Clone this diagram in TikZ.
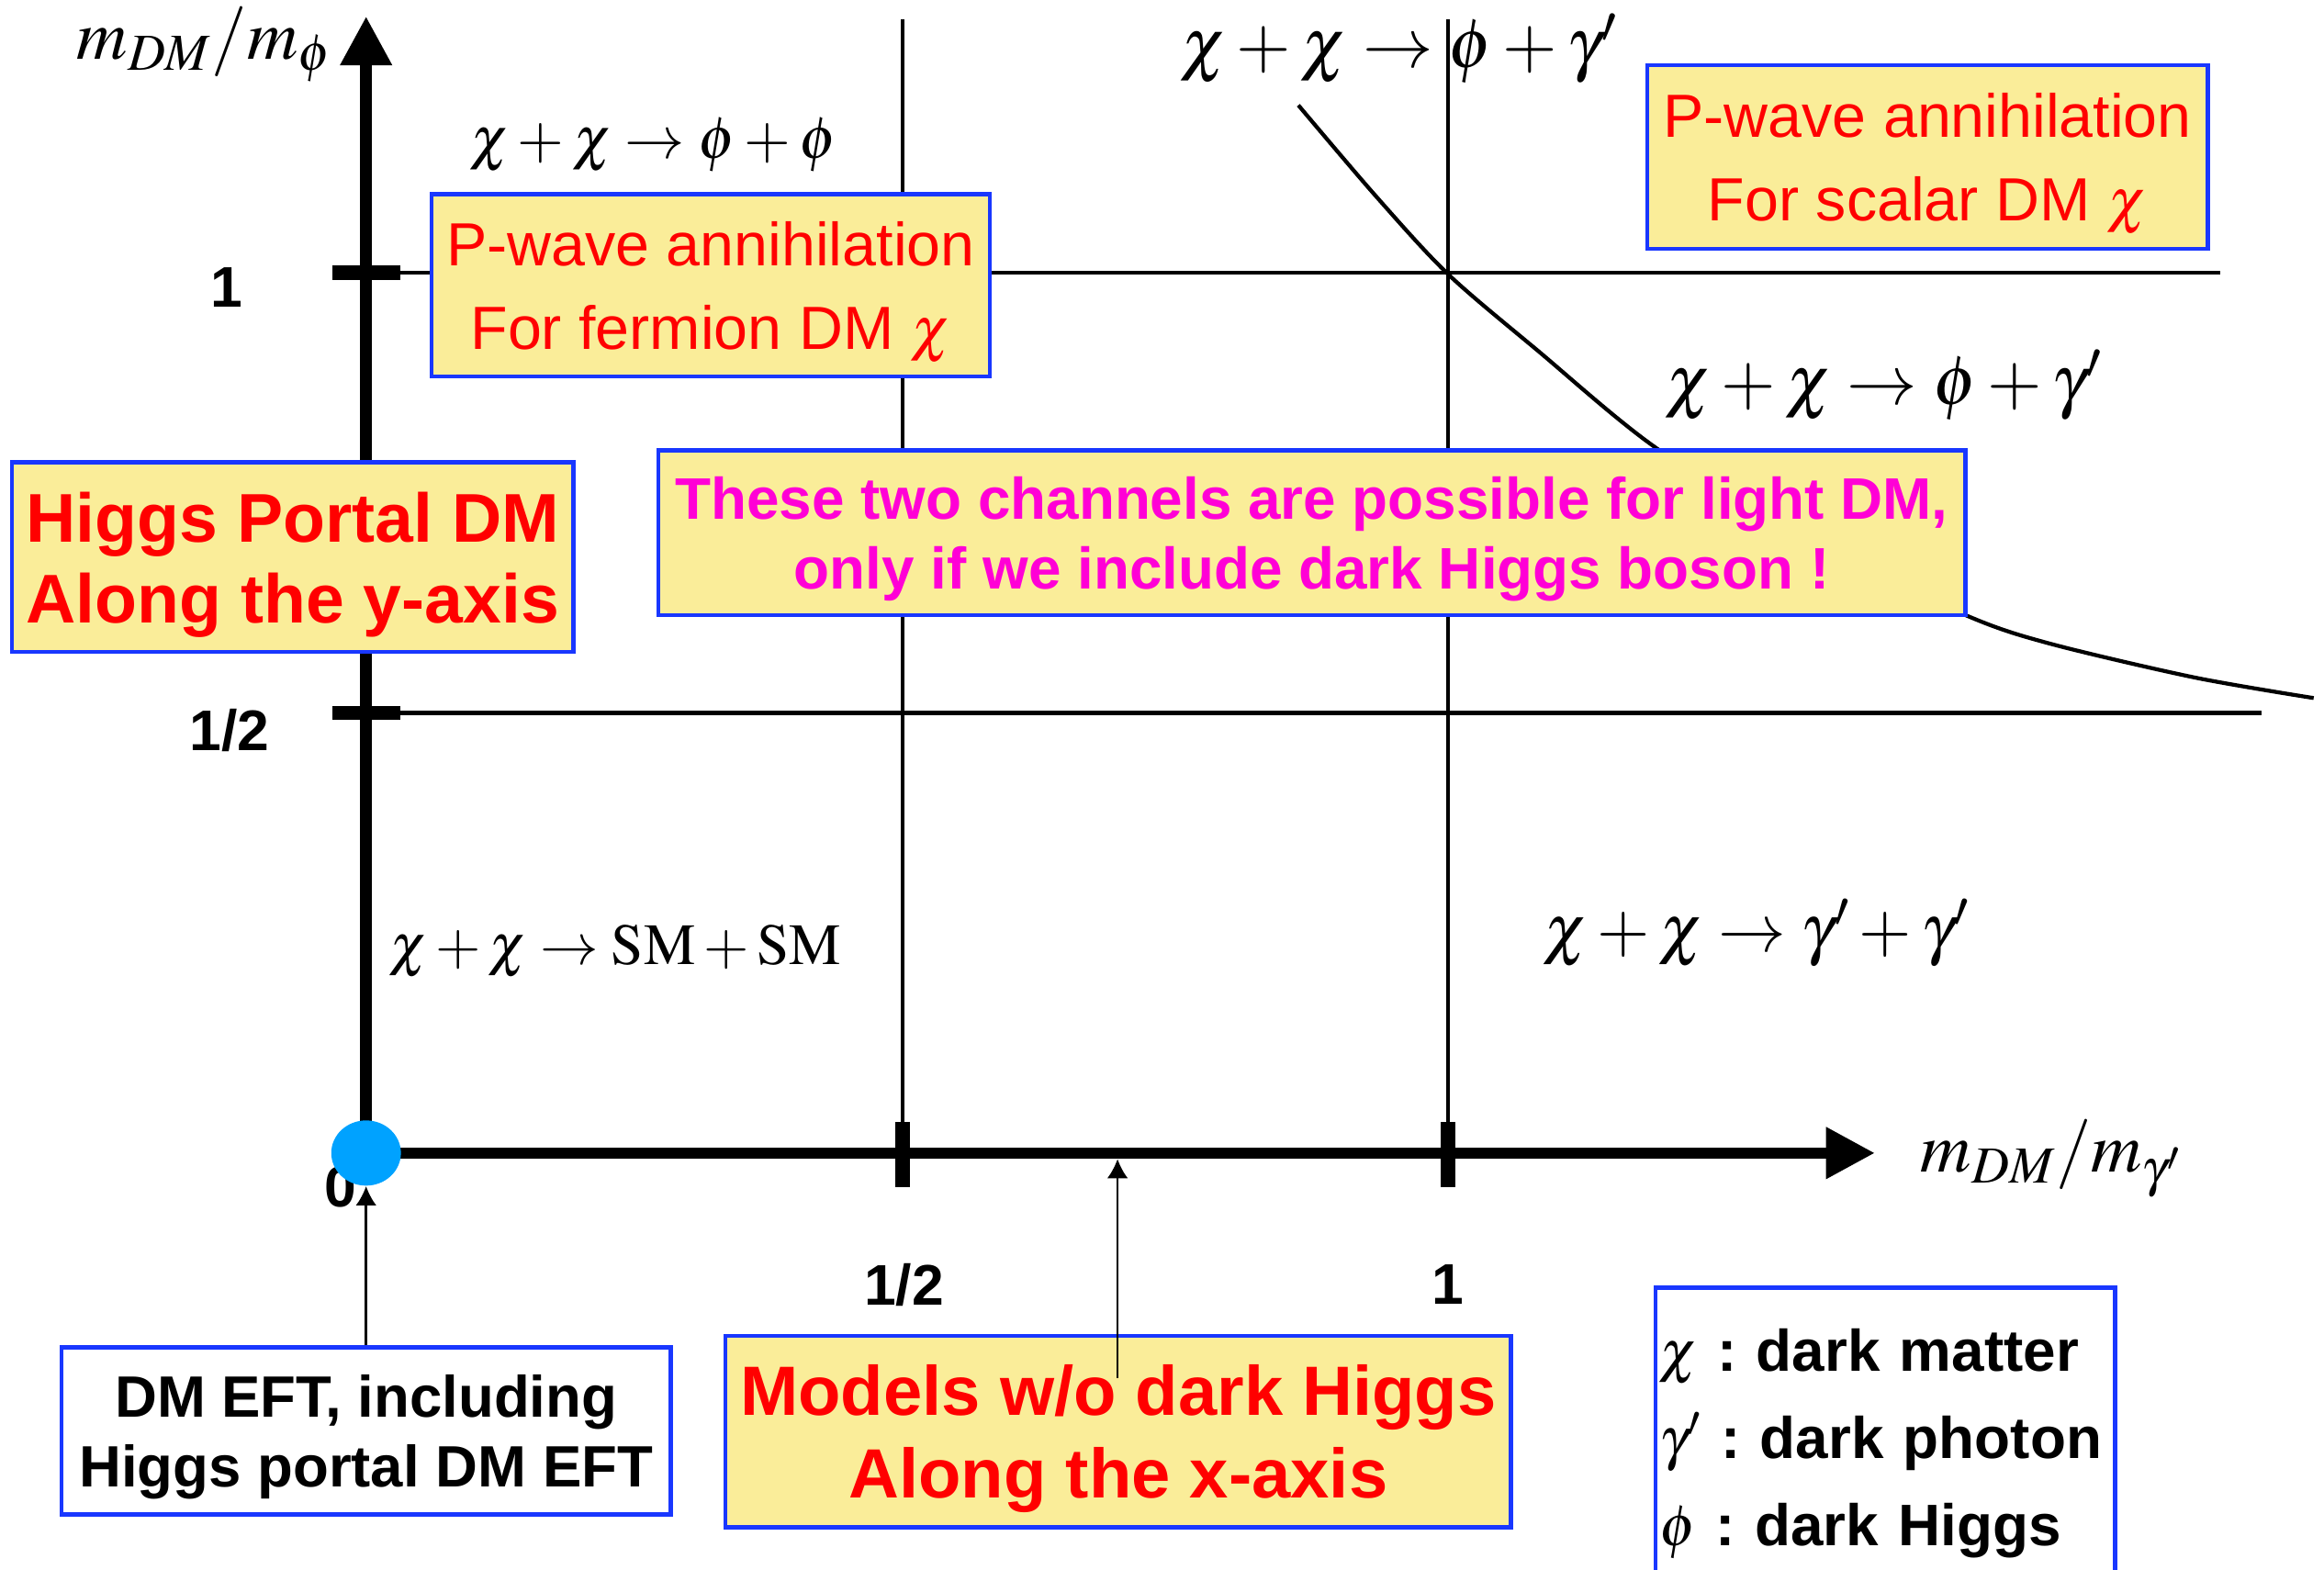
\documentclass[tikz,border=0pt]{standalone}
\usepackage{mathptmx}
\usepackage[no-math]{fontspec}
\setmainfont{Liberation Sans}
\usetikzlibrary{arrows.meta,shapes.geometric}
\definecolor{boxfill}{RGB}{250,237,153}
\definecolor{boxblue}{RGB}{25,55,255}
\definecolor{dmred}{RGB}{255,0,0}
\definecolor{dmmagenta}{RGB}{255,0,214}
\definecolor{dotblue}{RGB}{0,162,255}

\begin{document}
\begin{tikzpicture}[x=0.02cm, y=-0.02cm]
        \tikzstyle{note} = [rectangle, draw=boxblue, line width=1.6pt, fill=boxfill, inner sep=0pt, align=center, text depth=0pt]
        \tikzstyle{plain} = [rectangle, draw=boxblue, line width=1.6pt, fill=white, inner sep=0pt, align=center, text depth=0pt]
        \tikzstyle{process} = [inner sep=0pt, font=\fontsize{27}{30}\selectfont]
        \tikzstyle{ticklabel} = [inner sep=0pt, font=\bfseries\fontsize{22}{26}\selectfont]
        \tikzstyle{axis} = [line width=4.4pt, -{Triangle[length=0.66cm, width=0.66cm]}]
        \tikzstyle{guide} = [line width=1.5pt]
        \tikzstyle{tickmark} = [line width=5.5pt]
        \tikzstyle{pointer} = [line width=0.9pt, -{Latex[length=0.26cm, width=0.28cm]}]

        \useasboundingbox (0,0) rectangle (1568,1059);

        % axes frame
        \coordinate (origin) at (247,778);
        \coordinate (ytip) at (247,11);
        \coordinate (xtip) at (1265,778);
        \coordinate (yone) at (247,184);
        \coordinate (yhalf) at (247,481);
        \coordinate (xhalf) at (609,778);
        \coordinate (xone) at (977,778);

        % guide lines
        \draw [guide] (yone) -- (1498,184);
        \draw [guide] (yhalf) -- (1526,481);
        \draw [guide] (xhalf) -- (609,13);
        \draw [guide] (xone) -- (977,13);

        % threshold curve
        \draw [guide] plot[smooth] coordinates {(876,71) (928,132) (977,185) (1038,237) (1117,302) (1220,365) (1326,415) (1382,434) (1480,457) (1561,471)};

        \draw [axis] (origin) -- (ytip);
        \draw [axis] (origin) -- (xtip);
        \draw [tickmark] (224,184) -- (270,184);
        \draw [tickmark] (224,481) -- (270,481);
        \draw [tickmark] (609,757) -- (609,801);
        \draw [tickmark] (977,757) -- (977,801);

        \node [ticklabel] (lone) at (153,194) {1};
        \node [ticklabel] (lhalf) at (155,493) {1/2};
        \node [ticklabel] (bhalf) at (610,867) {1/2};
        \node [ticklabel] (bone) at (977,867) {1};
        \node [ticklabel] (zero) at (230,801) {0};
        \node [ellipse, fill=dotblue, minimum width=0.94cm, minimum height=0.88cm, inner sep=0pt] (dot) at (247,778) {};

        \node [process] (ylabel) at (138,30) {$m_{DM}/m_{\phi}$};
        \node [process] (xlabel) at (1384,782) {$m_{DM}/m_{\gamma'}$};

        \node [process, font=\fontsize{23}{28}\selectfont] (phiphi) at (441,98) {$\chi+\chi\rightarrow\phi+\phi$};
        \node [process] (phigamtop) at (944,33) {$\chi+\chi\rightarrow\phi+\gamma'$};
        \node [process] (phigam) at (1271,260) {$\chi+\chi\rightarrow\phi+\gamma'$};
        \node [process, font=\fontsize{22.4}{28}\selectfont] (smsm) at (415,642) {$\chi+\chi\rightarrow\mathrm{SM}+\mathrm{SM}$};
        \node [process, font=\fontsize{26}{30}\selectfont] (gamgam) at (1185,630) {$\chi+\chi\rightarrow\gamma'+\gamma'$};

        % text boxes
        \node [note, minimum width=7.54cm, minimum height=2.46cm, text=dmred, font=\fontsize{23.4}{32}\selectfont] (pfermion) at (479.5,192.5) {P-wave annihilation\\For fermion DM $\chi$};
        \node [note, minimum width=7.56cm, minimum height=2.48cm, text=dmred, font=\fontsize{23.4}{32}\selectfont] (pscalar) at (1300.5,106) {P-wave annihilation\\For scalar DM $\chi$};
        \node [note, minimum width=7.58cm, minimum height=2.56cm, text=dmred, font=\bfseries\fontsize{26.5}{31}\selectfont] (portal) at (197.5,376) {Higgs Portal DM\\Along the y-axis};
        \node [note, minimum width=17.64cm, minimum height=2.22cm, text=dmmagenta, font=\bfseries\fontsize{22.5}{26.7}\selectfont] (light) at (885,359.5) {These two channels are possible for light DM,\\only if we include dark Higgs boson !};
        \node [plain, minimum width=8.22cm, minimum height=2.26cm, font=\bfseries\fontsize{22.4}{27}\selectfont] (eft) at (247,965.5) {DM EFT, including\\Higgs portal DM EFT};
        \node [note, minimum width=10.6cm, minimum height=2.58cm, text=dmred, font=\bfseries\fontsize{26.8}{31.7}\selectfont] (models) at (754.5,966) {Models w/o dark Higgs\\Along the x-axis};
        \node [plain, text depth=, minimum width=6.2cm, minimum height=4.2cm, inner xsep=0.05cm, align=left, text width=6.1cm, font=\bfseries\frenchspacing\fontsize{22.5}{33.5}\selectfont] (legend) at (1272,974) {$\chi$ : dark matter\\$\gamma'$ : dark photon\\$\phi$ : dark Higgs};

        % pointers
        \coordinate (modelsfoot) at (754,930);
        \coordinate (xhit) at (754,782);
        \draw [pointer] (eft.north) -- (dot.south);
        \draw [pointer] (modelsfoot) -- (xhit);
\end{tikzpicture}
\end{document}
